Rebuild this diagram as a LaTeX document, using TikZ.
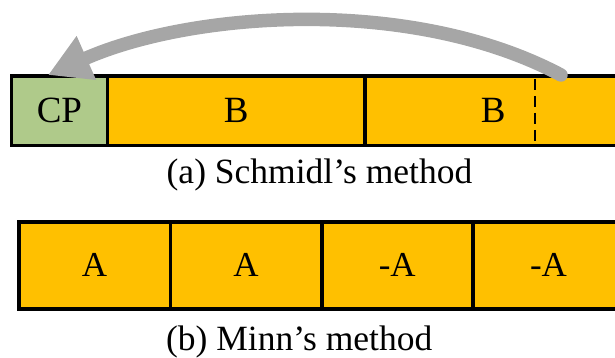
\documentclass[tikz,border=0pt]{standalone}
\usepackage{fontspec}
\setmainfont{Liberation Serif}
\usetikzlibrary{arrows.meta}
\definecolor{cpgreen}{RGB}{175,202,138}
\definecolor{symorange}{RGB}{255,192,0}
\definecolor{arrowgray}{RGB}{166,166,166}
\begin{document}
\begin{tikzpicture}[x=1pt,y=-1pt,
  cell/.style={draw=black, line width=3.6pt, rectangle, inner sep=0pt, outer sep=0pt},
  toprow/.style={cell, minimum height=69.7pt, font=\fontsize{37}{40}\selectfont},
  botrow/.style={cell, fill=symorange, minimum height=86.7pt, font=\fontsize{35}{38}\selectfont},
  caption/.style={anchor=base, inner sep=0pt, font=\fontsize{35.5}{40}\selectfont},
  cutline/.style={draw=black, line width=2.7pt, dash pattern=on 11pt off 6pt, dash phase=14pt},
  copyarrow/.style={draw=arrowgray, line width=13.5pt, line cap=round, -{Triangle[length=42pt,width=45pt]}}
]
\useasboundingbox (0,0) rectangle (615,358);
\clip (0,0) rectangle (615,358);
% (a) Schmidl's method
\node[toprow, fill=cpgreen, minimum width=96.2pt] (cp) at (59.4,110.85) {CP};
\node[toprow, fill=symorange, minimum width=257.2pt] (b1) at (236.1,110.85) {B};
\node[toprow, fill=symorange, minimum width=257.2pt] (b2) at (493.3,110.85) {B};
\coordinate (cut) at (535,0);
\draw[cutline] (cut |- b2.north) -- (cut |- b2.south);
\node[caption] (capa) at (319.5,183) {(a) Schmidl’s method};
% copy arrow
\coordinate (src) at (561,75);
\coordinate (dst) at (48,75);
\draw[copyarrow] (src) .. controls (410,-5) and (190,12) .. (dst);
% (b) Minn's method
\node[botrow, minimum width=151.6pt] (a1) at (94.5,265.35) {A};
\node[botrow, minimum width=151.4pt] (a2) at (246,265.35) {A};
\node[botrow, minimum width=151.1pt] (a3) at (397.25,265.35) {-A};
\node[botrow, minimum width=151.5pt] (a4) at (548.55,265.35) {-A};
\node[caption] (capb) at (299.2,350) {(b) Minn’s method};
\end{tikzpicture}
\end{document}
